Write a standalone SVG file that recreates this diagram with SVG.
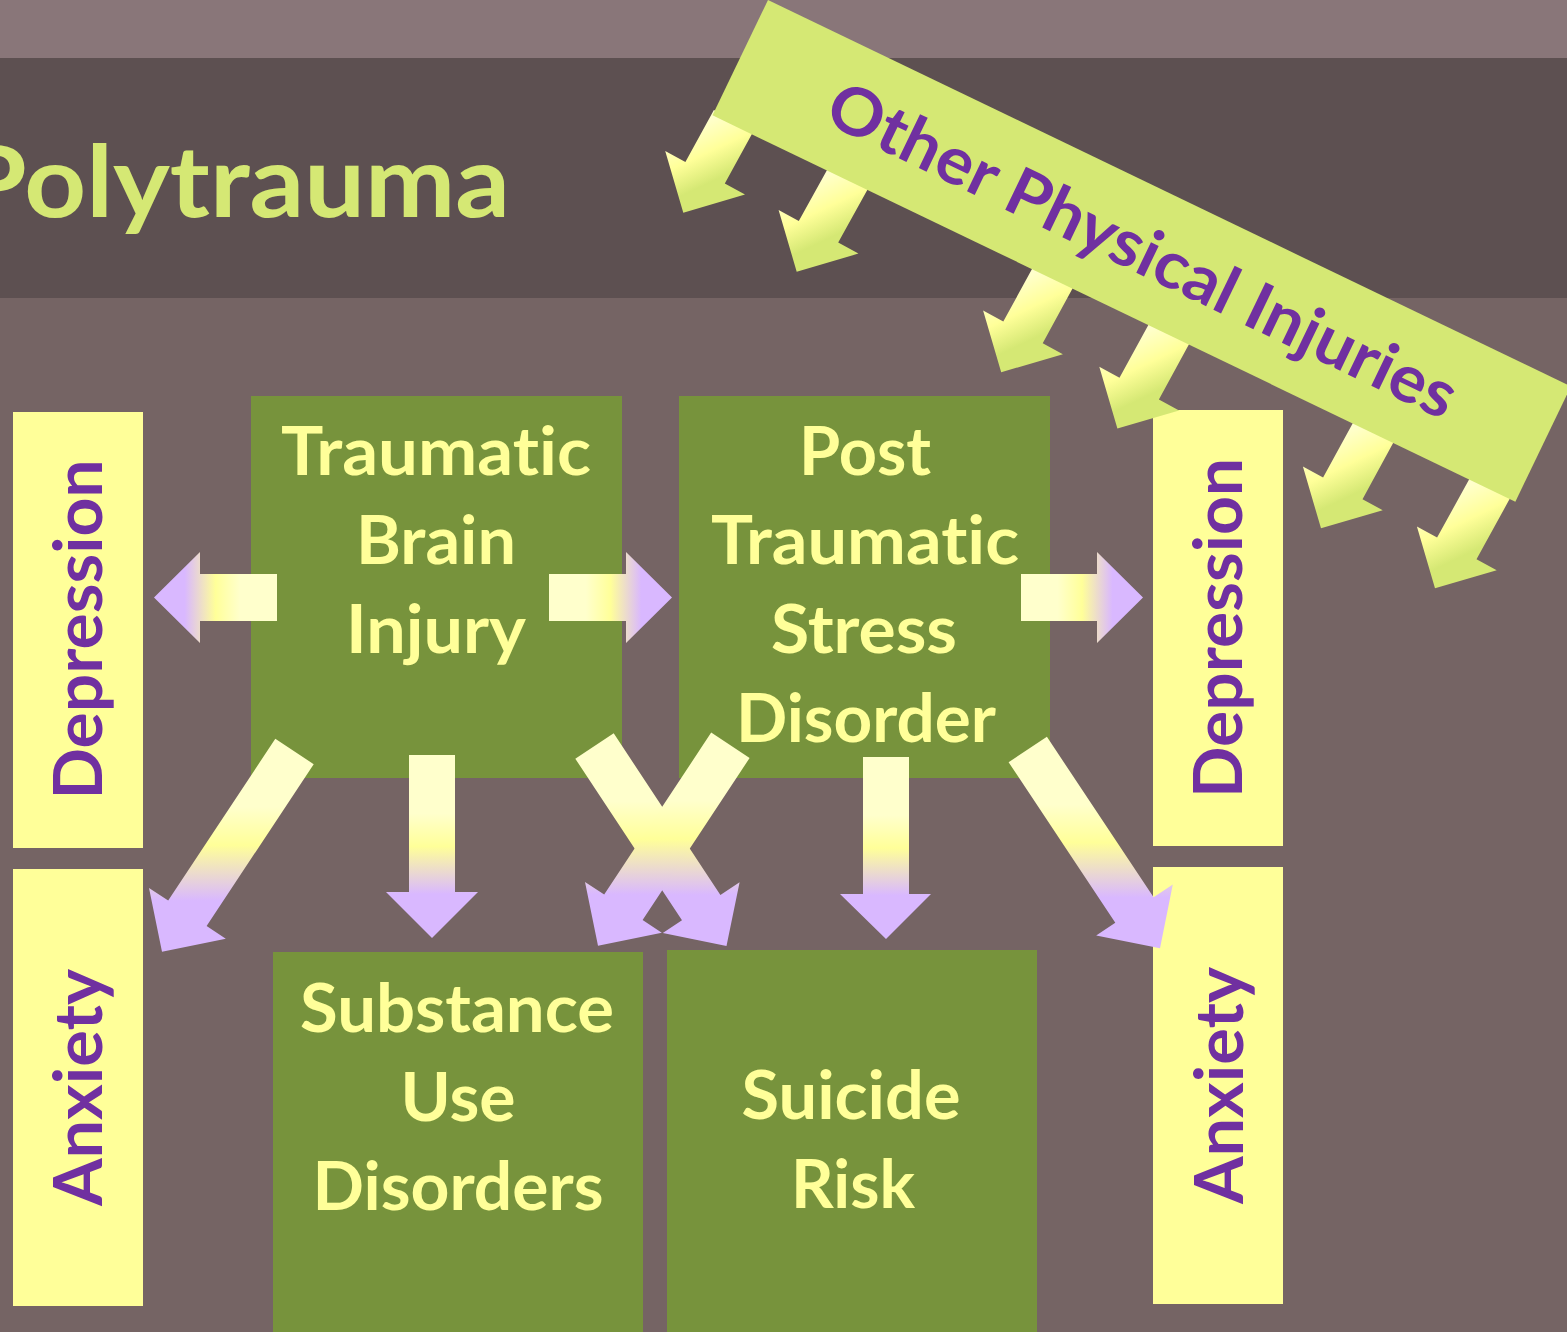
<svg xmlns="http://www.w3.org/2000/svg" width="1567" height="1332" viewBox="0 0 1567 1332">
<style>
text{font-variant-ligatures:none;font-feature-settings:"liga" 0,"clig" 0}
.box{fill:#77933C}
.side{fill:#FFFF99}
.lbl{font-family:Lato,"Open Sans","Liberation Sans",sans-serif;font-weight:700;font-size:66px;fill:#FFFF99;text-anchor:middle}
.vlbl{font-family:Lato,"Open Sans","Liberation Sans",sans-serif;font-weight:700;font-size:66px;fill:#7030A0;text-anchor:middle}
.title{font-family:Lato,"Open Sans","Liberation Sans",sans-serif;font-weight:700;font-size:100px;fill:#D5E874}
.btxt{font-family:Lato,"Open Sans","Liberation Sans",sans-serif;font-weight:700;font-size:66px;fill:#7030A0;text-anchor:middle}
</style>
<defs>
<linearGradient id="gV" x1="0" y1="0" x2="0" y2="1">
<stop offset="0" stop-color="#FFFFCC"/><stop offset="0.32" stop-color="#FFFFCC"/><stop offset="0.5" stop-color="#FFFF99"/><stop offset="0.76" stop-color="#D9B8FF"/><stop offset="1" stop-color="#D9B8FF"/>
</linearGradient>
<linearGradient id="gR" x1="0" y1="0" x2="1" y2="0">
<stop offset="0" stop-color="#FFFFCC"/><stop offset="0.3" stop-color="#FFFFCC"/><stop offset="0.5" stop-color="#FFFF99"/><stop offset="0.75" stop-color="#D9B8FF"/><stop offset="1" stop-color="#D9B8FF"/>
</linearGradient>
<linearGradient id="gL" x1="1" y1="0" x2="0" y2="0">
<stop offset="0" stop-color="#FFFFCC"/><stop offset="0.3" stop-color="#FFFFCC"/><stop offset="0.5" stop-color="#FFFF99"/><stop offset="0.75" stop-color="#D9B8FF"/><stop offset="1" stop-color="#D9B8FF"/>
</linearGradient>
<linearGradient id="gG" x1="0.3" y1="0" x2="0.7" y2="1">
<stop offset="0" stop-color="#FFFFCC"/><stop offset="0.15" stop-color="#FFFFCC"/><stop offset="0.42" stop-color="#FFFF99"/><stop offset="0.68" stop-color="#D5E874"/><stop offset="1" stop-color="#D5E874"/>
</linearGradient>
</defs>

<rect x="0" y="0" width="1567" height="1332" fill="#756464"/>
<rect x="0" y="0" width="1567" height="58" fill="#897679"/>
<rect x="0" y="58" width="1567" height="240" fill="#5D5051"/>

<g id="title">
<text class="title" x="-40" y="217" textLength="550" lengthAdjust="spacingAndGlyphs">Polytrauma</text>
</g>

<g id="tbi">
<rect class="box" x="251" y="396" width="371" height="382"/>
<text class="lbl" x="436" y="475" textLength="310" lengthAdjust="spacingAndGlyphs">Traumatic</text>
<text class="lbl" x="436" y="564" textLength="160" lengthAdjust="spacingAndGlyphs">Brain</text>
<text class="lbl" x="436" y="653" textLength="180" lengthAdjust="spacingAndGlyphs">Injury</text>
</g>

<g id="ptsd">
<rect class="box" x="679" y="396" width="371" height="382"/>
<text class="lbl" x="865" y="475" textLength="132" lengthAdjust="spacingAndGlyphs">Post</text>
<text class="lbl" x="865" y="564" textLength="308" lengthAdjust="spacingAndGlyphs">Traumatic</text>
<text class="lbl" x="864" y="653" textLength="186" lengthAdjust="spacingAndGlyphs">Stress</text>
<text class="lbl" x="866" y="742" textLength="260" lengthAdjust="spacingAndGlyphs">Disorder</text>
</g>

<g id="substance">
<rect class="box" x="273" y="952" width="370" height="380"/>
<text class="lbl" x="457" y="1032" textLength="314" lengthAdjust="spacingAndGlyphs">Substance</text>
<text class="lbl" x="458" y="1121" textLength="115" lengthAdjust="spacingAndGlyphs">Use</text>
<text class="lbl" x="458" y="1210" textLength="291" lengthAdjust="spacingAndGlyphs">Disorders</text>
</g>

<g id="suicide">
<rect class="box" x="667" y="950" width="370" height="382"/>
<text class="lbl" x="851" y="1119" textLength="219" lengthAdjust="spacingAndGlyphs">Suicide</text>
<text class="lbl" x="853" y="1208" textLength="124" lengthAdjust="spacingAndGlyphs">Risk</text>
</g>

<g id="depression-left">
<rect class="side" x="13" y="412" width="130" height="436"/>
<text class="vlbl" transform="translate(102,629.5) rotate(-90)" x="0" y="0" textLength="340" lengthAdjust="spacingAndGlyphs">Depression</text>
</g>

<g id="anxiety-left">
<rect class="side" x="13" y="869" width="130" height="437"/>
<text class="vlbl" transform="translate(102,1087.5) rotate(-90)" x="0" y="0" textLength="237" lengthAdjust="spacingAndGlyphs">Anxiety</text>
</g>

<g id="depression-right">
<rect class="side" x="1153" y="410" width="130" height="436"/>
<text class="vlbl" transform="translate(1242,628) rotate(-90)" x="0" y="0" textLength="340" lengthAdjust="spacingAndGlyphs">Depression</text>
</g>

<g id="anxiety-right">
<rect class="side" x="1153" y="867" width="130" height="437"/>
<text class="vlbl" transform="translate(1243,1085.5) rotate(-90)" x="0" y="0" textLength="237" lengthAdjust="spacingAndGlyphs">Anxiety</text>
</g>

<g id="connectors">
<polygon fill="url(#gL)" points="277,574 200,574 200,552 154,597.5 200,643 200,621 277,621"/>
<polygon fill="url(#gR)" points="549,574 626,574 626,552 672,597.5 626,643 626,621 549,621"/>
<polygon fill="url(#gR)" points="1021,574 1097,574 1097,552 1143,597.5 1097,643 1097,621 1021,621"/>
<polygon fill="url(#gV)" points="409,755 455,755 455,892 478,892 432,938 386,892 409,892"/>
<polygon fill="url(#gV)" points="863,757 909,757 909,894 931,894 886,939 840,894 863,894"/>
<polygon fill="url(#gV)" points="275.3,738.8 168.2,900.6 149,887.9 162,951.7 225.8,938.7 206.6,926 313.7,764.2"/>
<polygon fill="url(#gV)" points="575.3,758.7 682,920.3 662.8,932.9 726.5,946 739.6,882.3 720.4,894.9 613.7,733.3"/>
<polygon fill="url(#gV)" points="711.2,732.6 604.2,894.6 585,881.9 598,945.7 661.8,932.7 642.6,920 749.6,758"/>
<polygon fill="url(#gV)" points="1008.6,762.2 1115.3,922.7 1096.2,935.5 1160,948.3 1172.8,884.5 1153.6,897.3 1046.9,736.8"/>
</g>

<g id="other-physical-injuries">
<g id="banner-arrows">
<polygon fill="url(#gG)" points="713.9,109.9 685.4,162 665.2,151 683.3,212.7 745,194.6 724.8,183.6 753.3,131.5"/>
<polygon fill="url(#gG)" points="829.4,165.7 798.8,221 778.6,210 796.7,271.7 858.4,253.6 838.2,242.6 868.8,187.3"/>
<polygon fill="url(#gG)" points="1034.2,265 1003.3,321.6 983.1,310.6 1001.2,372.3 1062.9,354.2 1042.7,343.2 1073.6,286.6"/>
<polygon fill="url(#gG)" points="1150.4,321.2 1119.5,377.8 1099.3,366.8 1117.4,428.5 1179.1,410.4 1158.9,399.4 1189.8,342.8"/>
<polygon fill="url(#gG)" points="1354.4,420.2 1323.1,477.6 1302.9,466.6 1321,528.3 1382.7,510.2 1362.5,499.2 1393.8,441.8"/>
<polygon fill="url(#gG)" points="1471,476 1437.1,537.6 1416.9,526.6 1435,588.3 1496.7,570.2 1476.5,559.2 1510.4,497.6"/>
</g>
<g transform="translate(768,0) rotate(25.7)">
<rect x="0" y="0" width="891" height="128" fill="#D5E874"/>
<text class="btxt" x="446" y="86" textLength="690" lengthAdjust="spacingAndGlyphs">Other Physical Injuries</text>
</g>
</g>
</svg>
